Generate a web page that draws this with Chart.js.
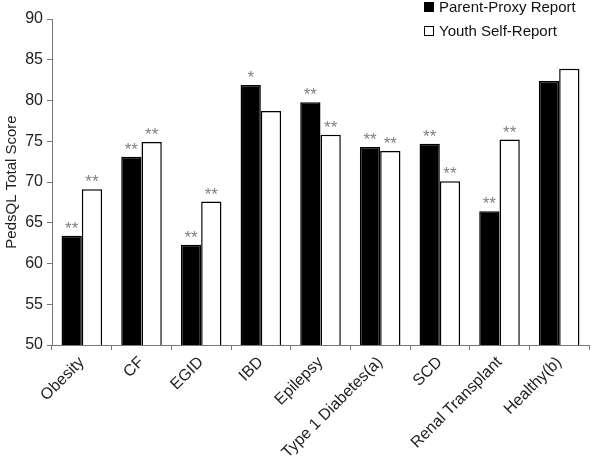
<!DOCTYPE html>
<html>
<head>
<meta charset="utf-8">
<script src="https://cdn.jsdelivr.net/npm/chart.js@4"></script>
<style>
  body { margin: 0; background: #fff; }
  #wrap { position: relative; width: 600px; height: 461px; }
  .lg { position: absolute; font: 15px "Liberation Sans", Arial, sans-serif; color: #111; display: flex; align-items: center; }
  .lg span.box { display: inline-block; width: 10px; height: 10px; margin-right: 5px; border: 1px solid #000; box-sizing: border-box; }
</style>
</head>
<body>
<div id="wrap">
  <canvas id="myChart" width="600" height="461"></canvas>
  <div class="lg" id="lg0" style="left:424px; top:-2px;"><span class="box" style="background:#000"></span><span class="t"></span></div>
  <div class="lg" id="lg1" style="left:424px; top:22px;"><span class="box" style="background:#fff"></span><span class="t"></span></div>
</div>
<script>
// data
var groups = ['Obesity', 'CF', 'EGID', 'IBD', 'Epilepsy', 'Type 1 Diabetes(a)', 'SCD', 'Renal Transplant', 'Healthy(b)'];
var parentScores = [63.4, 73.1, 62.3, 81.9, 79.8, 74.3, 74.7, 66.4, 82.4];
var youthScores = [69.1, 74.9, 67.6, 78.7, 75.8, 73.8, 70.1, 75.2, 83.9];
var parentStars = ['**', '**', '**', '*', '**', '**', '**', '**', ''];
var youthStars = ['**', '**', '**', '', '**', '**', '**', '**', ''];
var seriesNames = ['Parent-Proxy Report', 'Youth Self-Report'];

Chart.defaults.font.family = '"Liberation Sans", Arial, sans-serif';
Chart.defaults.font.size = 15;
Chart.defaults.color = '#222';

// significance marks above the bars
var starPlugin = {
  id: 'stars',
  afterDatasetsDraw: function (chart) {
    var c = chart.ctx;
    var marks = [parentStars, youthStars];
    c.save();
    c.font = '17px "Liberation Sans", Arial, sans-serif';
    c.fillStyle = '#808080';
    c.textAlign = 'center';
    c.textBaseline = 'alphabetic';
    chart.data.datasets.forEach(function (ds, i) {
      chart.getDatasetMeta(i).data.forEach(function (bar, j) {
        if (marks[i][j]) c.fillText(marks[i][j], bar.x, bar.y - 2);
      });
    });
    c.restore();
  }
};

var ctx = document.getElementById('myChart');
var myChart = new Chart(ctx, {
  type: 'bar',
  data: {
    labels: groups,
    datasets: [{
      label: seriesNames[0],
      data: parentScores,
      backgroundColor: '#000',
      borderColor: '#000',
      borderWidth: 1.5
    }, {
      label: seriesNames[1],
      data: youthScores,
      backgroundColor: '#fff',
      borderColor: '#000',
      borderWidth: 1.5
    }]
  },
  options: {
    responsive: false,
    animation: false,
    layout: { padding: { top: 19, right: 11, left: 3, bottom: 0 } },
    datasets: { bar: { categoryPercentage: 0.68, barPercentage: 1.0 } },
    plugins: { legend: { display: false }, tooltip: { enabled: false } },
    scales: {
      x: {
        grid: { drawOnChartArea: false, drawTicks: true, tickLength: 5, color: '#777' },
        border: { color: '#777', width: 1 },
        ticks: { minRotation: 45, maxRotation: 45, color: '#222', font: { size: 16 }, padding: 3 },
        afterFit: function (s) { s.height = 116; }
      },
      y: {
        min: 50,
        max: 90,
        grid: { drawOnChartArea: false, drawTicks: true, tickLength: 5, color: '#777' },
        border: { color: '#777', width: 1 },
        ticks: { stepSize: 5, color: '#222', font: { size: 16 }, padding: 4 },
        title: { display: true, text: 'PedsQL Total Score', color: '#222', font: { size: 15 }, padding: 0 },
        afterFit: function (s) { s.width = 49; }
      }
    }
  },
  plugins: [starPlugin]
});

document.querySelector('#lg0 .t').textContent = seriesNames[0];
document.querySelector('#lg1 .t').textContent = seriesNames[1];
</script>
</body>
</html>
